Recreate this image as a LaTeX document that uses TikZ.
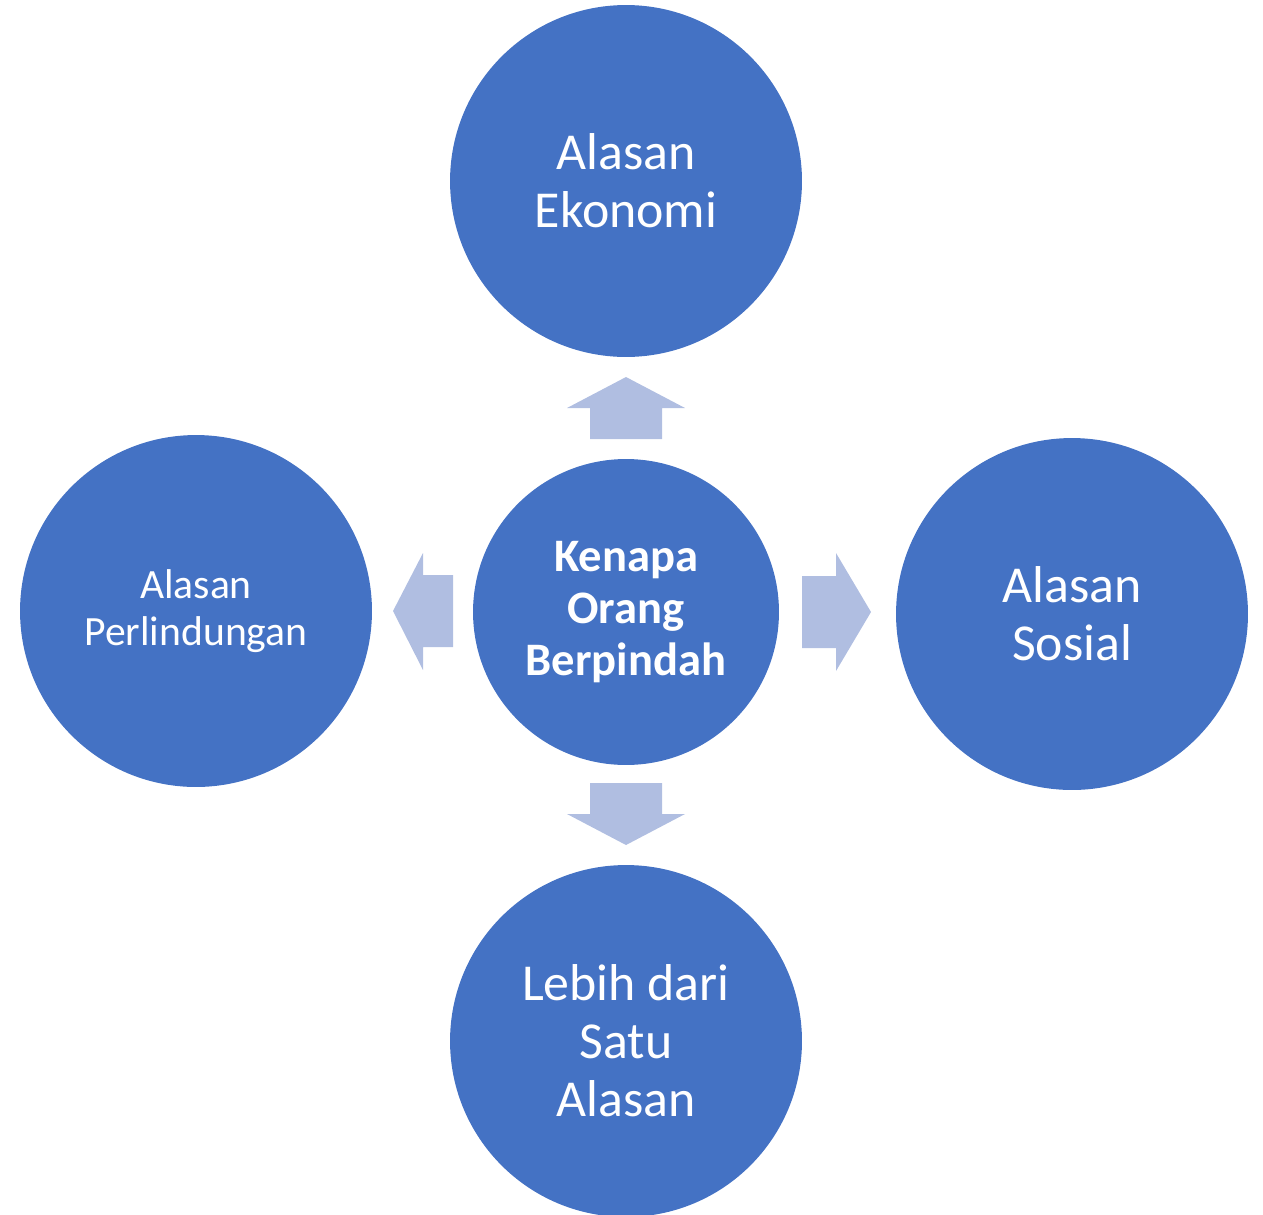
\documentclass[tikz,border=0pt]{standalone}
\usepackage{fontspec}
\setmainfont{Carlito}
\definecolor{circblue}{RGB}{68,114,196}
\definecolor{arrblue}{RGB}{176,190,225}
\begin{document}
\begin{tikzpicture}[x=0.02cm,y=-0.02cm,
  bigc/.style={circle,fill=circblue,draw=none,minimum size=7.04cm,inner sep=0pt,text=white,align=center,
    font=\fontsize{29.5pt}{33pt}\selectfont},
  midc/.style={circle,fill=circblue,draw=none,minimum size=6.12cm,inner sep=0pt,text=white,align=center,
    font=\bfseries\fontsize{26.5pt}{29.5pt}\selectfont},
  blockarrow/.style={fill=arrblue,draw=none}]
\useasboundingbox (0,0) rectangle (1263,1214);
\node[bigc] (eko) at (626,181) {Alasan\\Ekonomi};
\node[midc] (ctr) at (626,612) {Kenapa\\Orang\\Berpindah};
\node[bigc,font=\fontsize{23.7pt}{26.7pt}\selectfont] (lin) at (196,611) {Alasan\\Perlindungan};
\node[bigc] (sos) at (1072,614) {Alasan\\Sosial};
\node[bigc] (leb) at (626,1041) {Lebih dari\\Satu\\Alasan};
% up arrow
\fill[blockarrow] (590,439) -- (590,408) -- (567,408) -- (626,377) -- (685,408) -- (662,408) -- (662,439) -- cycle;
% down arrow
\fill[blockarrow] (590,783) -- (590,814) -- (567,814) -- (626,845) -- (685,814) -- (662,814) -- (662,783) -- cycle;
% right arrow
\fill[blockarrow] (802,576) -- (836,576) -- (836,553) -- (871,612) -- (836,671) -- (836,648) -- (802,648) -- cycle;
% left arrow
\fill[blockarrow] (453,575) -- (423,575) -- (423,553) -- (393,611) -- (423,670) -- (423,647) -- (453,647) -- cycle;
\end{tikzpicture}
\end{document}
